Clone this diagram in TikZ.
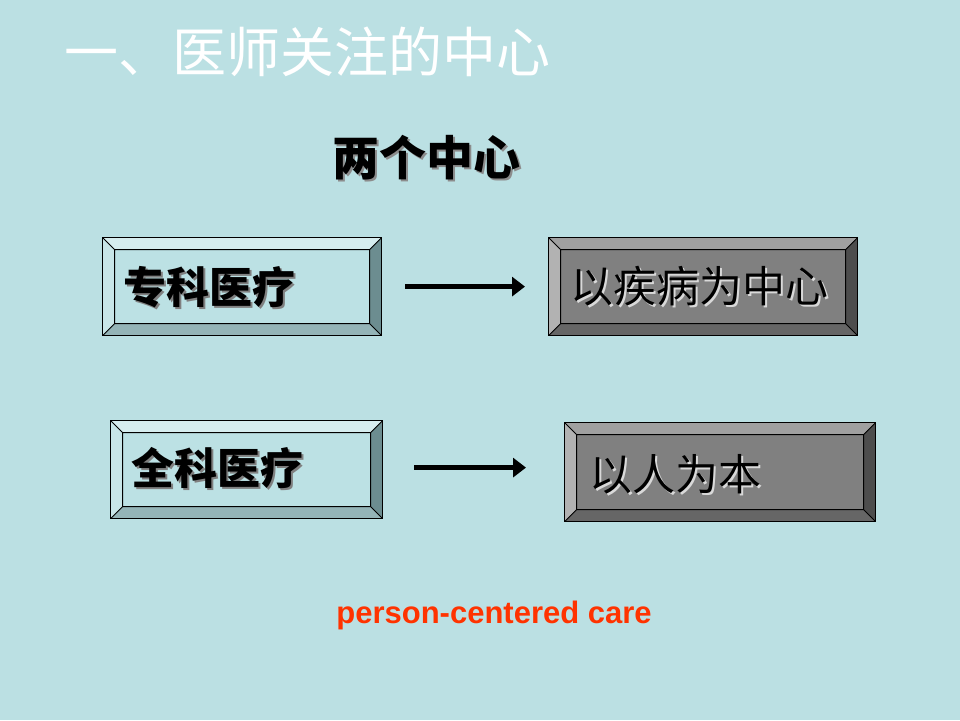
\documentclass[tikz,border=0pt]{standalone}
\usepackage{fontspec}
\usetikzlibrary{arrows.meta}
\newfontfamily\cjk{Noto Sans CJK SC}
\setsansfont{Liberation Sans}
\definecolor{slide}{RGB}{187,224,227}
\definecolor{lface}{RGB}{188,225,228}
\definecolor{ltop}{RGB}{214,237,239}
\definecolor{lleft}{RGB}{200,230,232}
\definecolor{lright}{RGB}{108,141,144}
\definecolor{lbottom}{RGB}{148,180,183}
\definecolor{dface}{RGB}{128,128,128}
\definecolor{dtop}{RGB}{160,160,160}
\definecolor{dleft}{RGB}{178,178,178}
\definecolor{dright}{RGB}{77,77,77}
\definecolor{dbottom}{RGB}{102,102,102}
\definecolor{careorange}{RGB}{255,51,0}
\tikzset{
  bevel/.style n args={5}{draw=black, line width=1.2pt, inner sep=0pt, anchor=north west, fill=#1,
    path picture={
      \coordinate (p1) at (path picture bounding box.north west);
      \coordinate (p2) at (path picture bounding box.north east);
      \coordinate (p3) at (path picture bounding box.south east);
      \coordinate (p4) at (path picture bounding box.south west);
      \coordinate (q1) at ([shift={(12pt,-12pt)}]p1);
      \coordinate (q2) at ([shift={(-12pt,-12pt)}]p2);
      \coordinate (q3) at ([shift={(-12pt,12pt)}]p3);
      \coordinate (q4) at ([shift={(12pt,12pt)}]p4);
      \fill[#2] (p1) -- (p2) -- (q2) -- (q1) -- cycle;
      \fill[#3] (p1) -- (q1) -- (q4) -- (p4) -- cycle;
      \fill[#4] (p2) -- (p3) -- (q3) -- (q2) -- cycle;
      \fill[#5] (p4) -- (q4) -- (q3) -- (p3) -- cycle;
      \draw[line width=0.8pt] (q1) rectangle (q3) (p1) -- (q1) (p2) -- (q2) (p3) -- (q3) (p4) -- (q4);
    }},
  lightbox/.style={bevel={lface}{ltop}{lleft}{lright}{lbottom}},
  darkbox/.style={bevel={dface}{dtop}{dleft}{dright}{dbottom}},
  boldtext/.style={inner sep=0pt, anchor=west, font=\cjk\bfseries\fontsize{43}{43}\selectfont},
  plaintext/.style={inner sep=0pt, anchor=west, font=\cjk\fontsize{43}{43}\selectfont},
  pointer/.style={line width=4.5pt, -{Triangle[length=13pt,width=19pt]}}
}
\begin{document}
\begin{tikzpicture}[x=1pt, y=-1pt]
    \fill[slide] (0,0) rectangle (960,720);

    \node[anchor=west, inner sep=0pt, text=white, font=\cjk\fontsize{54}{54}\selectfont] (title) at (64,52) {一、医师关注的中心};
    \node[inner sep=0pt, text=black!45, font=\cjk\bfseries\fontsize{47}{47}\selectfont] at (428,160) {两个中心};
    \node[inner sep=0pt, font=\cjk\bfseries\fontsize{47}{47}\selectfont] (two) at (426,158) {两个中心};

    \node[lightbox, minimum width=279pt, minimum height=98pt] (spec) at (102,237) {};
    \node[darkbox, minimum width=309pt, minimum height=98pt] (dis) at (548,237) {};
    \node[lightbox, minimum width=272pt, minimum height=98pt] (gen) at (110,420) {};
    \node[darkbox, minimum width=311pt, minimum height=99pt] (hum) at (564,422) {};

    \node[boldtext, text=black!50] at (125,289) {专科医疗};
    \node[boldtext] (spect) at (123,287) {专科医疗};
    \node[plaintext, text=white!85!black] at (572,288) {以疾病为中心};
    \node[plaintext] (dist) at (570,286) {以疾病为中心};
    \node[boldtext, text=black!50] at (133,470) {全科医疗};
    \node[boldtext] (gent) at (131,468) {全科医疗};
    \node[plaintext, text=white!85!black] at (591,476) {以人为本};
    \node[plaintext] (humt) at (589,474) {以人为本};

    \draw[pointer] ([xshift=23pt]spec.east) -- ([xshift=-23pt]dis.west);
    \draw[pointer] ([shift={(31pt,2pt)}]gen.east) -- ([shift={(-38pt,2pt)}]gen.east -| hum.west);

    \node[text=careorange, font=\sffamily\bfseries\fontsize{31}{31}\selectfont] (care) at (494,615) {person-centered care};
\end{tikzpicture}
\end{document}
